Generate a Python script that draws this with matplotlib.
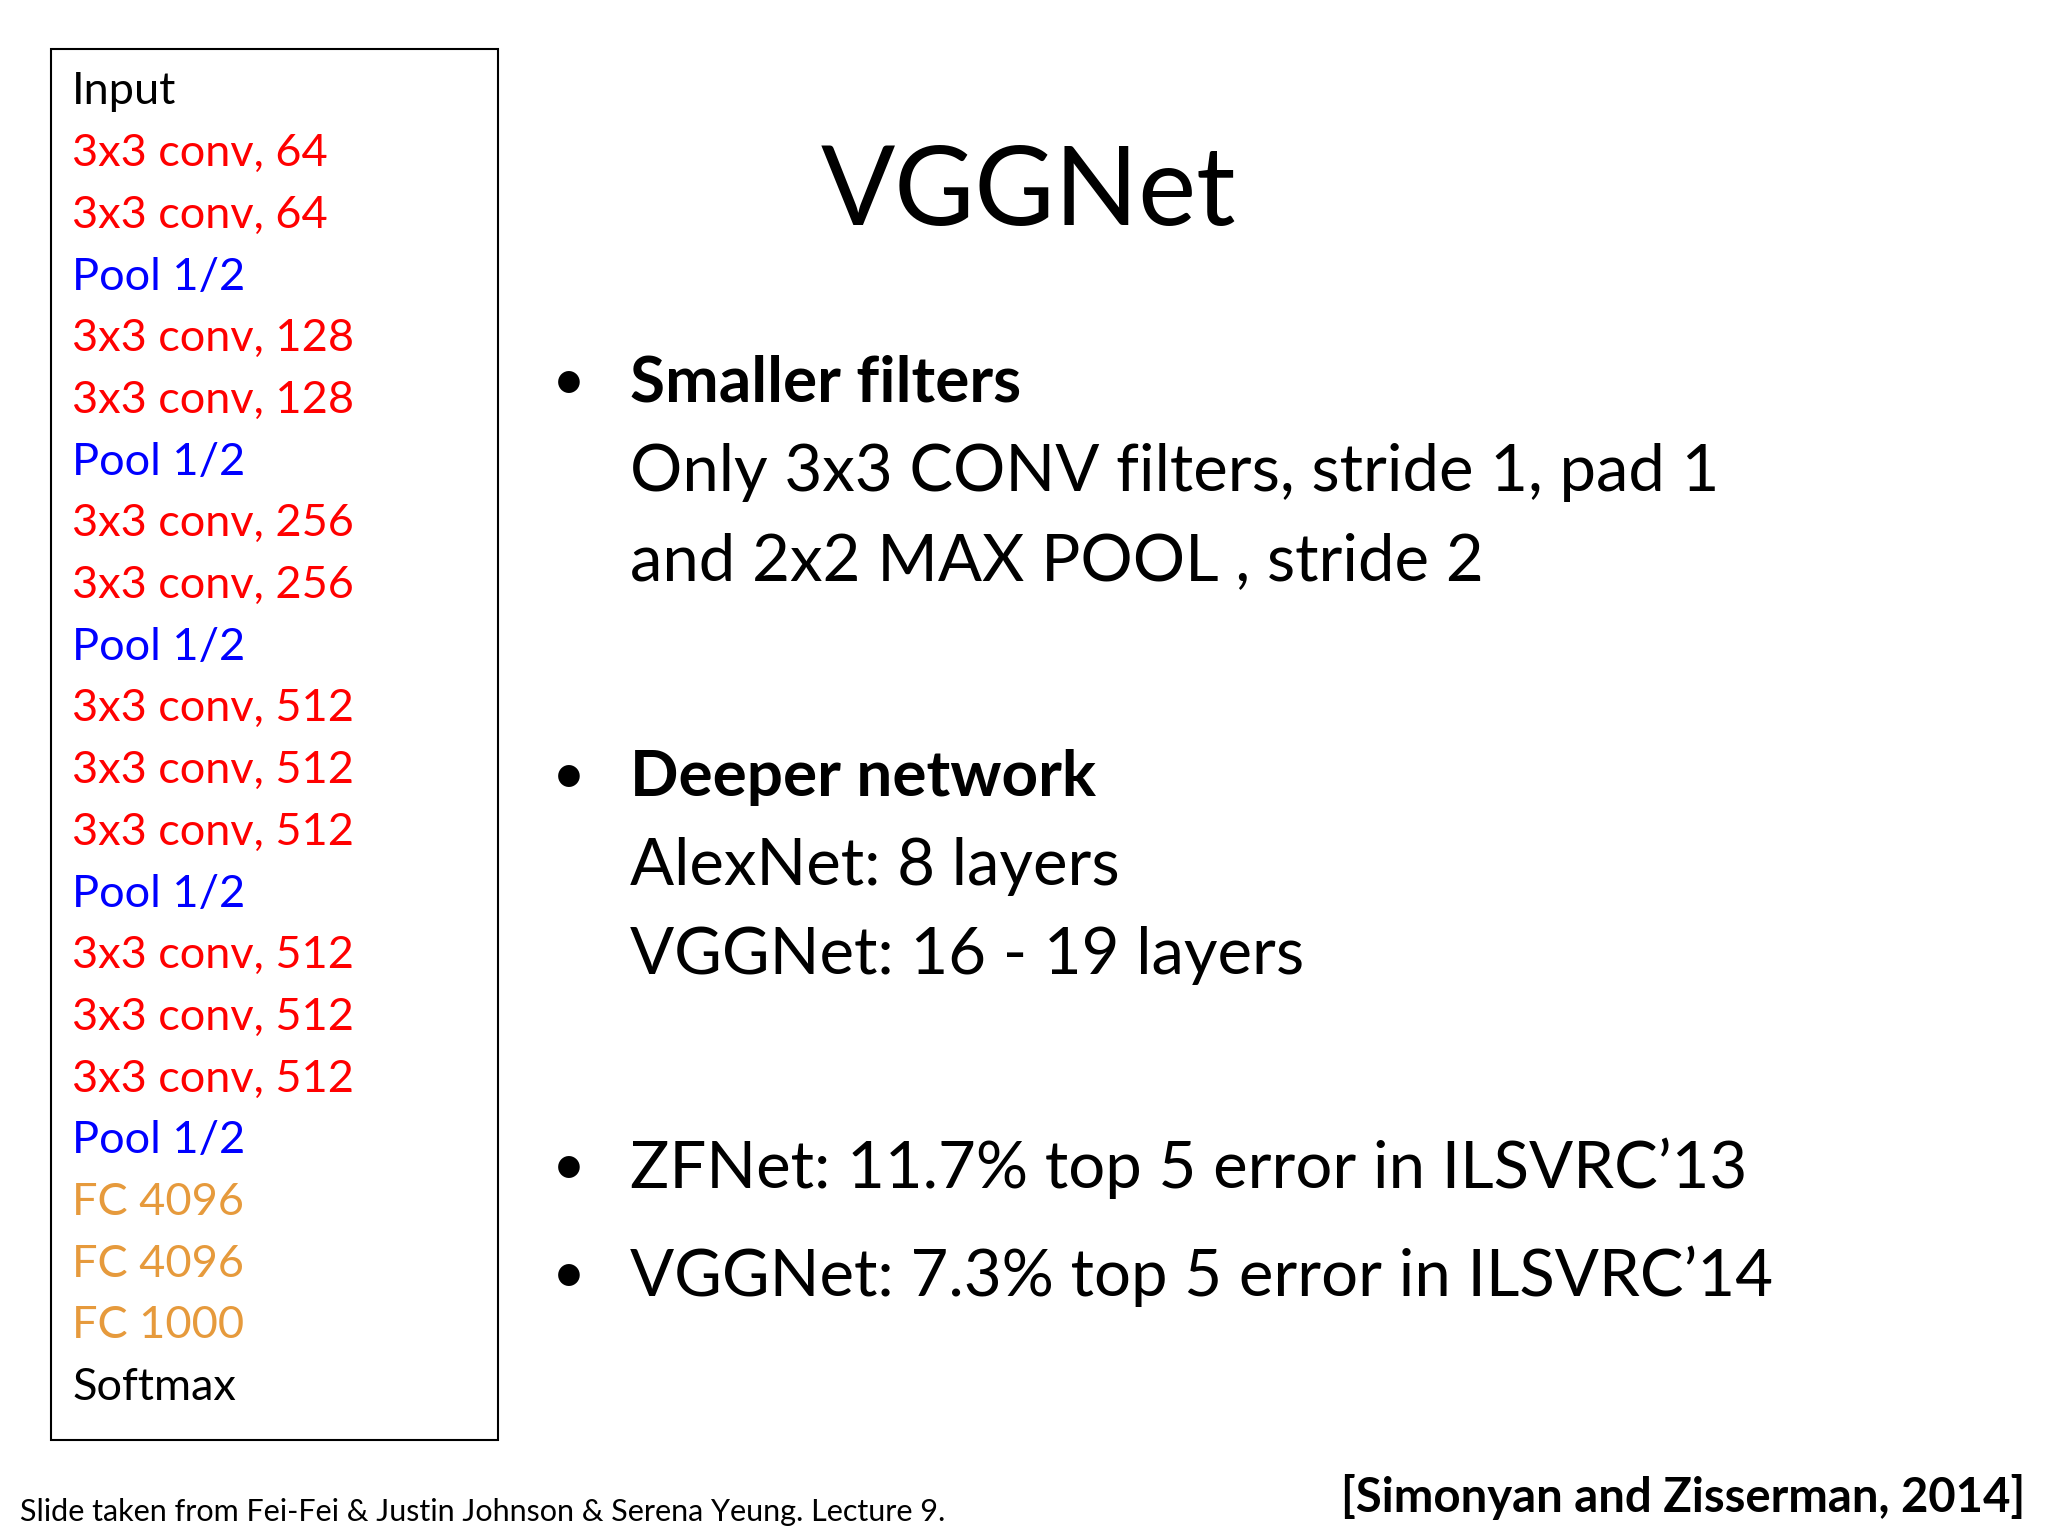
import matplotlib.pyplot as plt
from matplotlib.patches import Rectangle

# layer stack shown in the left box
layers = ["Input", "3x3 conv, 64", "3x3 conv, 64", "Pool 1/2",
          "3x3 conv, 128", "3x3 conv, 128", "Pool 1/2",
          "3x3 conv, 256", "3x3 conv, 256", "Pool 1/2",
          "3x3 conv, 512", "3x3 conv, 512", "3x3 conv, 512", "Pool 1/2",
          "3x3 conv, 512", "3x3 conv, 512", "3x3 conv, 512", "Pool 1/2",
          "FC 4096", "FC 4096", "FC 1000", "Softmax"]
kinds = ["io", "conv", "conv", "pool", "conv", "conv", "pool", "conv", "conv", "pool",
         "conv", "conv", "conv", "pool", "conv", "conv", "conv", "pool",
         "fc", "fc", "fc", "io"]
kind_colors = {"io": "black", "conv": "#ff0000", "pool": "#0000ff", "fc": "#e69a3c"}

title = "VGGNet"
bullets = [
    ("Smaller filters", ["Only 3x3 CONV filters, stride 1, pad 1",
                         "and 2x2 MAX POOL , stride 2"]),
    ("Deeper network", ["AlexNet: 8 layers", "VGGNet: 16 - 19 layers"]),
]
results = ["ZFNet: 11.7% top 5 error in ILSVRC\u201913",
           "VGGNet: 7.3% top 5 error in ILSVRC\u201914"]
footer = "Slide taken from Fei-Fei & Justin Johnson & Serena Yeung. Lecture 9."
citation = "[Simonyan and Zisserman, 2014]"

plt.rcParams['font.family'] = ['Lato', 'DejaVu Sans']
S = 2048 / 1560  # reference layout measured at 1560 px wide

fig = plt.figure(figsize=(20.48, 15.36), dpi=100)
ax = fig.add_axes([0, 0, 1, 1])
ax.set_xlim(0, 2048)
ax.set_ylim(1536, 0)
ax.axis('off')

ax.add_patch(Rectangle((39 * S, 37 * S), 340 * S, 1060 * S, fill=False,
                       edgecolor='black', linewidth=1.5))
for i, (name, k) in enumerate(zip(layers, kinds)):
    ax.text(55 * S, (70 + i * 47) * S, name, color=kind_colors[k],
            fontsize=32.5, va='center', ha='left')

ax.text(783 * S, 148 * S, title, fontsize=79, ha='center', va='center')

y = 292
for head, lines in bullets:
    ax.text(420 * S, y * S, "\u2022", fontsize=42, va='center')
    ax.text(480 * S, y * S, head, fontsize=46, weight='bold', va='center')
    for j, line in enumerate(lines):
        ax.text(480 * S, (y + 68 * (j + 1)) * S, line, fontsize=47, va='center')
    y += 300

for j, line in enumerate(results):
    yy = (890 + 82 * j) * S
    ax.text(420 * S, yy, "\u2022", fontsize=42, va='center')
    ax.text(480 * S, yy, line, fontsize=47, va='center')

ax.text(15 * S, 1152 * S, footer, fontsize=22, va='center')
ax.text(1543 * S, 1140 * S, citation, fontsize=34, weight='bold', va='center', ha='right')

fig.savefig("out.png", dpi=100, facecolor='white')
